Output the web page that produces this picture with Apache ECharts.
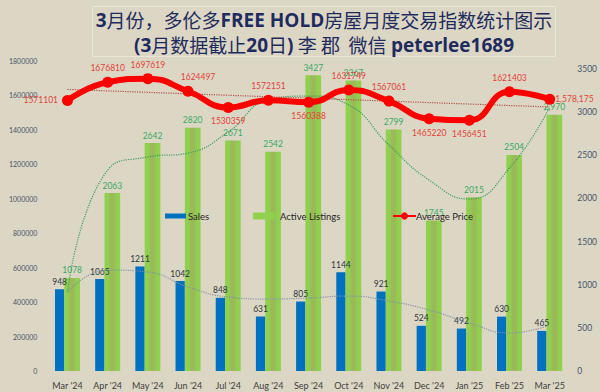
<!DOCTYPE html>
<html>
<head>
<meta charset="utf-8">
<script src="https://cdn.jsdelivr.net/npm/echarts@6/dist/echarts.min.js"></script>
<style>
html,body{margin:0;padding:0;background:#dcd7c4;}
#c{width:600px;height:392px;}
</style>
</head>
<body>
<div id="c"></div>
<script>
// ---- data ----
var months = ["Mar '24","Apr '24","May '24","Jun '24","Jul '24","Aug '24","Sep '24","Oct '24","Nov '24","Dec '24","Jan '25","Feb '25","Mar '25"];
var sales = [948,1065,1211,1042,848,631,805,1144,921,524,492,630,465];
var activeListings = [1078,2063,2642,2820,2671,2542,3427,3367,2799,1745,2015,2504,2970];
var averagePrice = [1571101,1676810,1697619,1624497,1530359,1572151,1560388,1631749,1567061,1465220,1456451,1621403,1578175];
// trendlines
var salesTrend = [915,1170,1147,973,858,834,846,869,811,707,556,440,533];
var listingsTrend = [915,2329,2480,2526,2770,3141,3187,3083,2619,2213,1993,2352,3059];
var priceTrend = [1635000,null,null,null,null,null,null,null,null,null,null,null,1533000];
var leftTicks = [0,200000,400000,600000,800000,1000000,1200000,1400000,1600000,1800000];
var rightTicks = [0,500,1000,1500,2000,2500,3000,3500];

// label placement for price labels (style, not data)
var priceLabelPos = ['left','top','top','top','bottom','top','bottom','top','top','bottom','bottom','top','right'];

var chart = echarts.init(document.getElementById('c'), null, {renderer:'svg', width:600, height:392});
var FONT = 'Lato, "Open Sans", sans-serif';
function commas(v){ return String(v).replace(/\B(?=(\d{3})+(?!\d))/g, ','); }

var option = {
  animation:false,
  backgroundColor:'#dcd7c4',
  textStyle:{fontFamily:FONT},
  title:{
    left:321, top:3, textAlign:'center',
    padding:[4,3,3,3],
    borderColor:'#ebe7d8', borderWidth:1,
    text:'{b|3}{n|月份，多伦多}{b|FREE HOLD}{n|房屋月度交易指数统计图示}\n{b|(3}{n|月数据截止}{b|20}{n|日}{b|)} {n|李 郡  微信} {b|peterlee1689}',
    textStyle:{
      rich:{
        b:{fontFamily:'"Open Sans", "Noto Sans CJK SC", sans-serif', fontWeight:'bold', fontSize:19, color:'#1f2b5e', lineHeight:25},
        n:{fontFamily:'"Noto Sans CJK SC", sans-serif', fontWeight:'normal', fontSize:19, color:'#1f2b5e', lineHeight:25}
      }
    }
  },
  legend:[
    {data:[{name:'Sales', icon:'rect'}], left:160, top:206, itemWidth:21, itemHeight:5, itemGap:0,
     textStyle:{fontSize:9.5, color:'#262626', fontFamily:FONT, padding:[0,0,0,-3]}},
    {data:[{name:'Active Listings', icon:'rect', itemStyle:{color:'#92d050'}}], left:248, top:206, itemWidth:22, itemHeight:7,
     textStyle:{fontSize:9.5, color:'#262626', fontFamily:FONT}},
    {data:[{name:'Average Price'}], left:387, top:206, itemWidth:23, itemHeight:9,
     textStyle:{fontSize:9.5, color:'#262626', fontFamily:FONT, padding:[0,0,0,-5]}}
  ],
  grid:{left:47.4, right:29.4, top:61, bottom:21, containLabel:false},
  xAxis:{
    type:'category', data:months,
    axisLine:{show:false}, axisTick:{show:false},
    axisLabel:{fontSize:9, color:'#404040', margin:10, fontFamily:FONT, interval:0}
  },
  yAxis:[
    {type:'value', min:0, max:leftTicks[leftTicks.length-1], interval:200000, position:'left',
     splitLine:{show:false}, axisLine:{show:false}, axisTick:{show:false},
     axisLabel:{fontSize:7, color:'#44546a', margin:10, fontFamily:FONT,
       formatter:function(v){ return String(v); }}},
    {type:'value', min:0, max:3593, interval:500, position:'right',
     splitLine:{show:false}, axisLine:{show:false}, axisTick:{show:false},
     axisLabel:{fontSize:8.5, color:'#44546a', margin:7.5, fontFamily:FONT,
       formatter:function(v){ return rightTicks.indexOf(v) >= 0 ? String(v) : ''; }}}
  ],
  series:[
    {name:'Sales', type:'bar', yAxisIndex:1, data:sales, barWidth:9.3, barGap:'0%',
     itemStyle:{color:'#0070c0'},
     label:{show:true, position:'top', distance:3, fontSize:8.5, color:'#2f3542', fontFamily:FONT}, z:2},
    {name:'Active Listings', type:'bar', yAxisIndex:1, data:activeListings, barWidth:15.7, barGap:'0%',
     itemStyle:{color:new echarts.graphic.LinearGradient(0,0,1,0,[
        {offset:0,color:'#90d14e'},{offset:0.25,color:'#90cf4f'},{offset:0.4,color:'#9bb95a'},
        {offset:0.6,color:'#9bb95a'},{offset:0.75,color:'#90cf4f'},{offset:1,color:'#90d14e'}])},
     label:{show:true, position:'top', distance:3, fontSize:8.5, color:'#3aa865', fontFamily:FONT,
       formatter:function(p){ return p.dataIndex === activeListings.length-1 ? commas(p.value) : String(p.value); }}, z:2},
    {name:'Sales trend', type:'line', yAxisIndex:1, data:salesTrend, smooth:true, symbol:'none', silent:true,
     lineStyle:{color:'#8393a8', width:1.2, type:'dotted'}, z:3},
    {name:'Listings trend', type:'line', yAxisIndex:1, data:listingsTrend, smooth:true, symbol:'none', silent:true,
     lineStyle:{color:'#3f9a5e', width:1.2, type:'dotted'}, z:3},
    {name:'Price trend', type:'line', yAxisIndex:0, data:priceTrend, connectNulls:true, symbol:'none', silent:true,
     lineStyle:{color:'#b0504a', width:1.2, type:'dotted'}, z:3},
    {name:'Average Price', type:'line', yAxisIndex:0, smooth:true, symbol:'circle', symbolSize:11,
     data:averagePrice.map(function(v,i){
       var lab = {position:priceLabelPos[i]};
       if(i===3){ lab.offset=[10,0]; }
       if(i===12){ lab.distance=0; }
       return {value:v, label:lab};
     }),
     itemStyle:{color:'#ff0000'}, lineStyle:{color:'#ff0000', width:6},
     label:{show:true, fontSize:8.5, color:'#e2423a', distance:4, fontFamily:FONT,
       formatter:function(p){ return p.dataIndex === averagePrice.length-1 ? commas(p.value) : String(p.value); }}, z:5}
  ]
};
chart.setOption(option);
</script>
</body>
</html>
